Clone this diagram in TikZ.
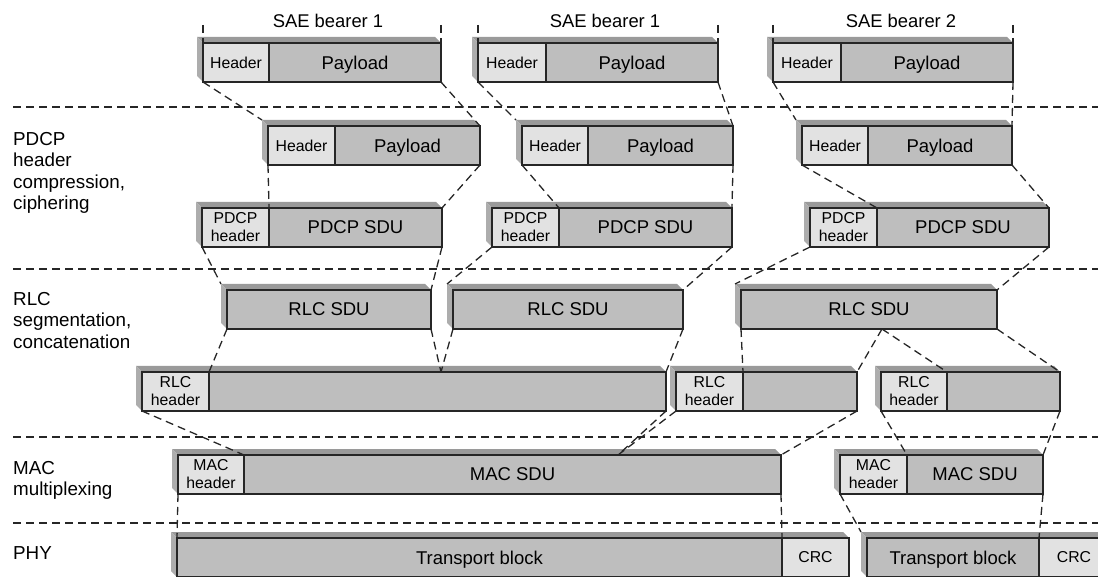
\documentclass[tikz,border=0pt]{standalone}
\usepackage{fontspec}
\setmainfont{Liberation Sans}
\usetikzlibrary{positioning,backgrounds}

\definecolor{hdrgray}{HTML}{E2E2E2}
\definecolor{sdugray}{HTML}{BEBEBE}
\definecolor{topgray}{HTML}{9A9A9A}
\definecolor{sidegray}{HTML}{ADADAD}

% 3D edge of a box: left part #1, right part #2
\newcommand{\slab}[2]{%
  \begin{pgfonlayer}{background}
  \fill[topgray] (#1.north west) -- ++(-6,-6) coordinate (#1b)
     -- ([shift={(-6,-6)}]#2.north east) -- (#2.north east) -- cycle;
  \fill[sidegray] (#1.north west) -- (#1b)
     -- ([shift={(-6,-6)}]#1.south west) -- (#1.south west) -- cycle;
  \end{pgfonlayer}
}

\tikzset{
  pdu/.style={draw=black!85, line width=1.5pt, minimum height=39pt,
              inner sep=0pt, outer sep=0pt},
  hdr/.style={pdu, fill=hdrgray, align=center,
              font=\fontsize{15.8}{18}\selectfont},
  sdu/.style={pdu, fill=sdugray, text depth=0pt,
              font=\fontsize{18.5}{22}\selectfont},
  cut/.style={draw=black!85, line width=1.3pt, dash pattern=on 8pt off 5pt},
  side/.style={anchor=north west, align=left, inner sep=0pt,
               font=\fontsize{18.8}{21.5}\selectfont},
  bearer/.style={inner sep=0pt, font=\fontsize{18.4}{22}\selectfont}
}

\begin{document}
\begin{tikzpicture}[x=1pt,y=-1pt]
        \useasboundingbox (0,0) rectangle (1098,577);
        \clip (0,0) rectangle (1098,577);

        % layer separators
        \foreach \y in {107,269,437,523}
          \draw[cut] (13,\y) -- (1098,\y);

        % layer names
        \node[side] (pdcp) at (13,132) {PDCP\\header\\compression,\\ciphering};
        \node[side] (rlc) at (13,292) {RLC\\segmentation,\\concatenation};
        \node[side] (mac) at (13,461) {MAC\\multiplexing};
        \node[side] (phy) at (13,546) {PHY};

        % IP packets
        \node[hdr, minimum width=66pt, anchor=north west] (a1h) at (203,43) {Header};
        \node[sdu, minimum width=172pt, right=0pt of a1h] (a1p) {Payload};
        \node[hdr, minimum width=68pt, anchor=north west] (a2h) at (478,43) {Header};
        \node[sdu, minimum width=172pt, right=0pt of a2h] (a2p) {Payload};
        \node[hdr, minimum width=68pt, anchor=north west] (a3h) at (773,43) {Header};
        \node[sdu, minimum width=172pt, right=0pt of a3h] (a3p) {Payload};
        \slab{a1h}{a1p}
        \slab{a2h}{a2p}
        \slab{a3h}{a3p}

        \node[bearer] (sae1) at (328,21) {SAE bearer 1};
        \node[bearer] (sae2) at (605,21) {SAE bearer 1};
        \node[bearer] (sae3) at (901,21) {SAE bearer 2};

        \draw[cut] (a1h.north west) ++(0,-18) -- (a1h.north west);
        \draw[cut] (a1p.north east) ++(0,-18) -- (a1p.north east);
        \draw[cut] (a2h.north west) ++(0,-18) -- (a2h.north west);
        \draw[cut] (a2p.north east) ++(0,-18) -- (a2p.north east);
        \draw[cut] (a3h.north west) ++(0,-18) -- (a3h.north west);
        \draw[cut] (a3p.north east) ++(0,-18) -- (a3p.north east);

        % compressed headers
        \node[hdr, minimum width=67pt, anchor=north west] (b1h) at (268,126) {Header};
        \node[sdu, minimum width=145pt, right=0pt of b1h] (b1p) {Payload};
        \node[hdr, minimum width=66pt, anchor=north west] (b2h) at (522,126) {Header};
        \node[sdu, minimum width=145pt, right=0pt of b2h] (b2p) {Payload};
        \node[hdr, minimum width=66pt, anchor=north west] (b3h) at (802,126) {Header};
        \node[sdu, minimum width=144pt, right=0pt of b3h] (b3p) {Payload};
        \slab{b1h}{b1p}
        \slab{b2h}{b2p}
        \slab{b3h}{b3p}

        % PDCP PDUs
        \node[hdr, minimum width=67pt, anchor=north west] (c1h) at (202,208) {PDCP\\header};
        \node[sdu, minimum width=173pt, right=0pt of c1h] (c1p) {PDCP SDU};
        \node[hdr, minimum width=67pt, anchor=north west] (c2h) at (492,208) {PDCP\\header};
        \node[sdu, minimum width=173pt, right=0pt of c2h] (c2p) {PDCP SDU};
        \node[hdr, minimum width=67pt, anchor=north west] (c3h) at (810,208) {PDCP\\header};
        \node[sdu, minimum width=172pt, right=0pt of c3h] (c3p) {PDCP SDU};
        \slab{c1h}{c1p}
        \slab{c2h}{c2p}
        \slab{c3h}{c3p}

        % RLC SDUs
        \node[sdu, minimum width=204pt, anchor=north west] (d1) at (227,290) {RLC SDU};
        \node[sdu, minimum width=230pt, anchor=north west] (d2) at (453,290) {RLC SDU};
        \node[sdu, minimum width=256pt, anchor=north west] (d3) at (741,290) {RLC SDU};
        \slab{d1}{d1}
        \slab{d2}{d2}
        \slab{d3}{d3}

        % RLC PDUs
        \node[hdr, minimum width=67pt, anchor=north west] (e1h) at (142,372) {RLC\\header};
        \node[sdu, minimum width=457pt, right=0pt of e1h] (e1p) {};
        \node[hdr, minimum width=67pt, anchor=north west] (e2h) at (676,372) {RLC\\header};
        \node[sdu, minimum width=114pt, right=0pt of e2h] (e2p) {};
        \node[hdr, minimum width=66pt, anchor=north west] (e3h) at (881,372) {RLC\\header};
        \node[sdu, minimum width=113pt, right=0pt of e3h] (e3p) {};
        \slab{e1h}{e1p}
        \slab{e2h}{e2p}
        \slab{e3h}{e3p}

        % MAC PDUs
        \node[hdr, minimum width=66pt, anchor=north west] (f1h) at (178,455) {MAC\\header};
        \node[sdu, minimum width=537pt, right=0pt of f1h] (f1p) {MAC SDU};
        \node[hdr, minimum width=67pt, anchor=north west] (f2h) at (840,455) {MAC\\header};
        \node[sdu, minimum width=136pt, right=0pt of f2h] (f2p) {MAC SDU};
        \slab{f1h}{f1p}
        \slab{f2h}{f2p}

        % transport blocks
        \node[sdu, minimum width=605pt, anchor=north west] (g1p) at (177,538) {Transport block};
        \node[hdr, minimum width=67pt, right=0pt of g1p] (g1c) {CRC};
        \node[sdu, minimum width=172pt, anchor=north west] (g2p) at (867,538) {Transport block};
        \node[hdr, minimum width=70pt, right=0pt of g2p] (g2c) {CRC};
        \slab{g1p}{g1c}
        \slab{g2p}{g2c}

        \coordinate (e1cut) at (441,372);
        \coordinate (d3cut) at (882,329);
        \coordinate (f1cut) at (618,455);

        \draw[cut] (a1h.south west) -- (b1hb);
        \draw[cut] (a1p.south east) -- (b1p.north east);
        \draw[cut] (a2h.south west) -- (b2hb);
        \draw[cut] (a2p.south east) -- (b2p.north east);
        \draw[cut] (a3h.south west) -- (b3hb);
        \draw[cut] (a3p.south east) -- (b3p.north east);

        \draw[cut] (b1h.south west) -- (c1h.north east);
        \draw[cut] (b1p.south east) -- (c1p.north east);
        \draw[cut] (b2h.south west) -- (c2h.north east);
        \draw[cut] (b2p.south east) -- (c2p.north east);
        \draw[cut] (b3h.south west) -- (c3h.north east);
        \draw[cut] (b3p.south east) -- (c3p.north east);

        \draw[cut] (c1h.south west) -- (d1b);
        \draw[cut] (c1p.south east) -- (d1.north east);
        \draw[cut] (c2h.south west) -- (d2b);
        \draw[cut] (c2p.south east) -- (d2.north east);
        \draw[cut] (c3h.south west) -- (d3b);
        \draw[cut] (c3p.south east) -- (d3.north east);

        \draw[cut] (d1.south west) -- (e1h.north east);
        \draw[cut] (d1.south east) -- (e1cut);
        \draw[cut] (d2.south west) -- (e1cut);
        \draw[cut] (d2.south east) -- (e1p.north east);
        \draw[cut] (d3.south west) -- (e2h.north east);
        \draw[cut] (d3cut) -- (e2p.north east);
        \draw[cut] (d3cut) -- (e3h.north east);
        \draw[cut] (d3.south east) -- (e3p.north east);

        \draw[cut] (e1h.south west) -- (f1h.north east);
        \draw[cut] (e1p.south east) -- (f1cut);
        \draw[cut] (e2h.south west) -- (f1cut);
        \draw[cut] (e2p.south east) -- (f1p.north east);
        \draw[cut] (e3h.south west) -- (f2h.north east);
        \draw[cut] (e3p.south east) -- (f2p.north east);

        \draw[cut] (f1h.south west) -- (g1p.north west);
        \draw[cut] (f1p.south east) -- (g1c.north west);
        \draw[cut] (f2h.south west) -- (g2pb);
        \draw[cut] (f2p.south east) -- (g2c.north west);
\end{tikzpicture}
\end{document}
